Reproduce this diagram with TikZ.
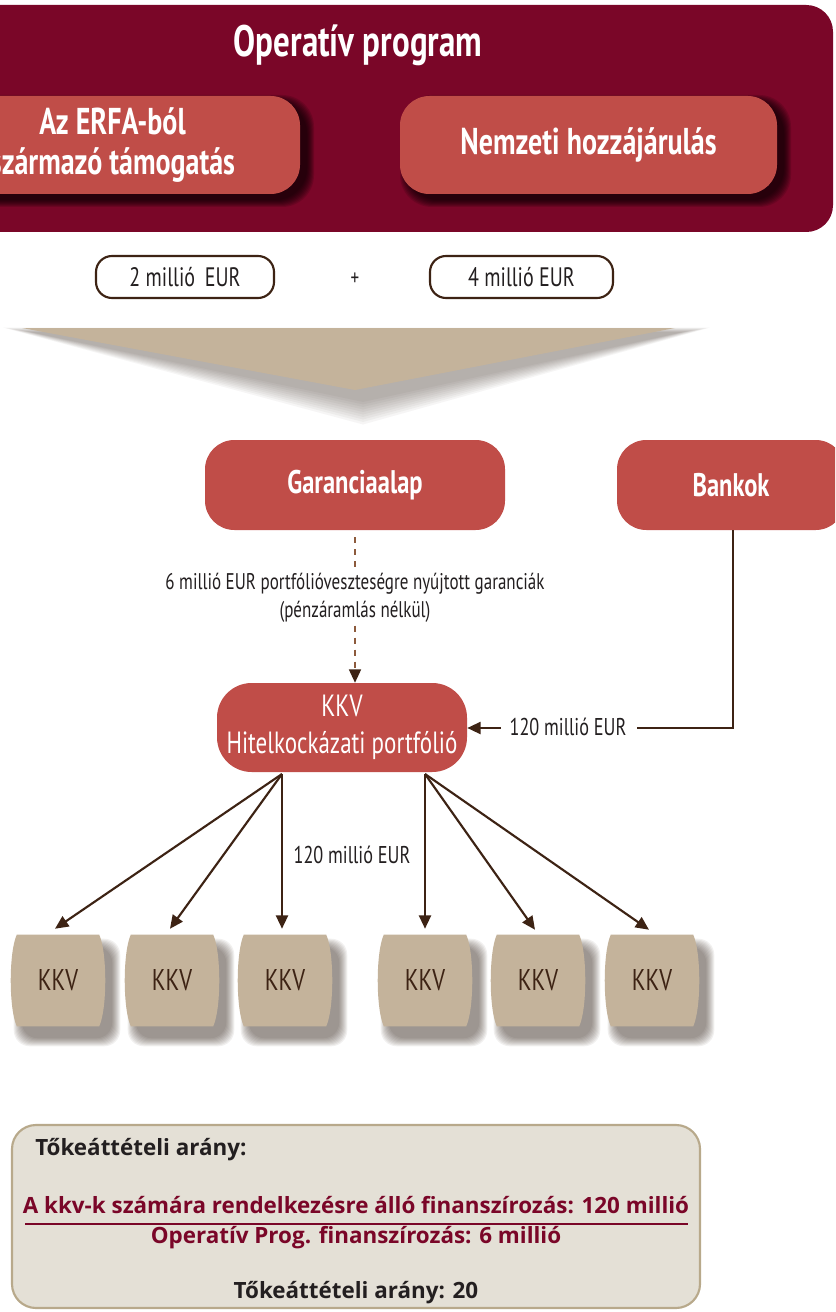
\documentclass[tikz,border=0pt]{standalone}
\usepackage{fontspec}
\setmainfont[FakeStretch=0.75]{PT Sans}
\newfontfamily\widefont{Open Sans}
\usetikzlibrary{arrows.meta,calc}
\definecolor{maroon}{RGB}{122,6,40}
\definecolor{brick}{RGB}{192,77,72}
\definecolor{tan}{RGB}{196,179,155}
\definecolor{dbrown}{RGB}{61,35,20}
\definecolor{dashbrown}{RGB}{140,90,60}
\definecolor{paper}{RGB}{228,224,214}
\definecolor{paperedge}{RGB}{184,169,139}
\definecolor{textdark}{RGB}{35,31,32}
\definecolor{shadegrey}{RGB}{60,45,35}
\pgfdeclarelayer{background}
\pgfsetlayers{background,main}
\begin{document}
% coordinates: x in px from left, y = -(px from top); 1px = 0.75pt
\begin{tikzpicture}[x=0.75pt,y=0.75pt,
  banner/.style={fill=maroon, rounded corners=20pt, inner sep=0pt},
  redbox/.style={fill=brick, rounded corners=22pt, text=white, align=center, inner sep=0pt},
  softshade/.style={fill=black, opacity=0.13, rounded corners=24pt},
  kkvshade/.style={fill=shadegrey, opacity=0.07, rounded corners=12pt},
  trishade/.style={fill=shadegrey, opacity=0.045},
  amount/.style={draw=dbrown, line width=1.6pt, fill=white, rounded corners=12pt, inner sep=0pt,
    minimum height=31.5pt, font=\fontsize{20}{20}\selectfont, text=textdark},
  kkvbox/.style={minimum width=67.5pt, minimum height=68.25pt, inner sep=0pt,
    font=\fontsize{22.5}{22.5}\selectfont, text=dbrown},
  kkvshape/.style={fill=tan},
  flow/.style={draw=dbrown, line width=1.6pt, -{Triangle[length=10pt,width=9pt]}},
  plain/.style={draw=dbrown, line width=1.6pt},
  dashline/.style={draw=dashbrown, line width=1.2pt, dash pattern=on 4.5pt off 4.5pt},
  lbl/.style={font=\fontsize{18.2}{18.2}\selectfont, text=textdark, inner sep=2pt, align=center},
  bottomtxt/.style={font=\widefont\bfseries\fontsize{16.8}{16.8}\selectfont, inner sep=0pt}
]
\clip (0,0) rectangle (835,-1312);
\begin{pgfonlayer}{background}
\fill[white] (0,0) rectangle (835,-1312);
\end{pgfonlayer}

% top banner
\node[banner, minimum width=654.75pt, minimum height=170.25pt] (op) at (396.5,-118.5) {};
\node[text=white, font=\bfseries\fontsize{33}{33}\selectfont, inner sep=0pt] (optitle) at (358,-45) {Operatív program};
% soft shadows of the two red boxes
\foreach \i in {0,...,7}{
  \fill[softshade] (-75+7-\i,-96-6+\i) rectangle (300+7+\i,-194-6-\i);
  \fill[softshade] (400+7-\i,-96-6+\i) rectangle (777+7+\i,-194-6-\i);
}
\node[redbox, minimum width=281.25pt, minimum height=73.5pt,
  font=\bfseries\fontsize{28}{30}\selectfont] (erfa) at (112.5,-145) {Az ERFA-ból\\származó támogatás};
\node[redbox, minimum width=282.75pt, minimum height=73.5pt,
  font=\bfseries\fontsize{28}{30}\selectfont] (nemz) at (588.5,-145) {Nemzeti hozzájárulás};

% amounts
\node[amount, minimum width=133.5pt] (a1) at (185,-277) {2 millió\, EUR};
\node[lbl, font=\fontsize{17}{17}\selectfont] (plus) at (355,-279) {+};
\node[amount, minimum width=137.25pt] (a2) at (521.5,-277) {4 millió EUR};

% big triangle with soft shadow
\foreach \i in {0,...,9}{
  \fill[trishade] (22+8-3*\i,-332+0.5*\i) -- (675+8+3*\i,-332+0.5*\i) -- (355+8,-402-2.5*\i) -- cycle;
}
\coordinate (tl) at (22,-328);
\coordinate (tr) at (675,-328);
\coordinate (tb) at (355,-390);
\path[fill=tan] (tl) -- (tr) -- (tb) -- cycle;

% Garanciaalap and Bankok
\node[redbox, minimum width=225pt, minimum height=67.5pt, font=\bfseries\fontsize{24.5}{24.5}\selectfont] (gar) at (355,-485) {Garanciaalap};
\node[redbox, minimum width=171pt, minimum height=67.5pt, font=\bfseries\fontsize{24.5}{24.5}\selectfont] (bank) at (731,-485) {Bankok};

\node[lbl, font=\fontsize{17}{21}\selectfont] (glbl) at (355,-598) {6 millió EUR portfólióveszteségre nyújtott garanciák\\(pénzáramlás nélkül)};

% portfolio
\node[redbox, rounded corners=26pt, minimum width=187.5pt, minimum height=66.75pt,
  font=\fontsize{23}{28}\selectfont] (port) at (342,-727.5) {KKV\\Hitelkockázati portfólió};

\coordinate (dtip) at (glbl.south |- port.north);
\draw[dashline] ($(gar.south)+(0,-7)$) -- (glbl.north);
\draw[dashline] (glbl.south) -- ($(dtip)+(0,12)$);
\draw[flow, line width=1.2pt] ($(dtip)+(0,13)$) -- (dtip);

% Bankok flow
\node[lbl] (blbl) at (568,-727) {120 millió EUR};
\coordinate (bk) at (733,-728);
\draw[plain] (bank.south -| bk) -- (bk) -- ($(blbl.east)+(8,-1)$);
\draw[flow] ($(blbl.west)+(-6,-1)$) -- (port.east |- bk);

% KKV boxes
\node[kkvbox] (k1) at (58,-980.5) {KKV};
\node[kkvbox] (k2) at (172,-980.5) {KKV};
\node[kkvbox] (k3) at (285,-980.5) {KKV};
\node[kkvbox] (k4) at (425,-980.5) {KKV};
\node[kkvbox] (k5) at (538,-980.5) {KKV};
\node[kkvbox] (k6) at (652,-980.5) {KKV};
\begin{pgfonlayer}{background}
\foreach \n in {k1,k2,k3,k4,k5,k6}{
  \foreach \i in {0,...,8}{
    \fill[kkvshade] ($(\n.north west)+(9-\i,-12+\i)$) rectangle ($(\n.south east)+(9+\i,-12-\i)$);
  }
}
\foreach \n in {k1,k2,k3,k4,k5,k6}{
  \path[kkvshape] ($(\n.north west)+(4,0)$) -- ($(\n.north east)+(-4,0)$)
    .. controls ($(\n.north east)+(4,-18)$) and ($(\n.south east)+(4,18)$) .. ($(\n.south east)+(-4,0)$)
    -- ($(\n.south west)+(4,0)$)
    .. controls ($(\n.south west)+(-4,18)$) and ($(\n.north west)+(-4,-18)$) .. cycle;
}
\end{pgfonlayer}

\coordinate (pl) at (282,-774);
\coordinate (pr) at (425,-774);
\draw[flow] (pl) -- ($(k1.north)+(-3,6)$);
\draw[flow] (pl) -- ($(k2.north)+(-2,6)$);
\draw[flow] (pl) -- ($(k3.north)+(-3,6)$);
\draw[flow] (pr) -- ($(k4.north)+(0,6)$);
\draw[flow] (pr) -- ($(k5.north)+(-3,5)$);
\draw[flow] (pr) -- ($(k6.north)+(-3,5)$);
\node[lbl] (mlbl) at (352,-855) {120 millió EUR};

% bottom box
\node[fill=paper, draw=paperedge, line width=1.6pt, rounded corners=18pt, minimum width=516pt, minimum height=137.25pt, inner sep=0pt] (lev) at (356,-1216.5) {};
\node[bottomtxt, text=textdark, anchor=west] (lev1) at (35,-1150) {Tőkeáttételi arány:};
\node[bottomtxt, text=maroon] (lev2) at (356,-1205) {A kkv-k számára rendelkezésre álló finanszírozás: 120 millió};
\coordinate (ul) at (25,-1224);
\coordinate (ur) at (688,-1224);
\draw[maroon, line width=1.1pt] (ul) -- (ur);
\node[bottomtxt, text=maroon] (lev3) at (356,-1238) {Operatív Prog. finanszírozás: 6 millió};
\node[bottomtxt, text=textdark] (lev4) at (356,-1293) {Tőkeáttételi arány: 20};
\end{tikzpicture}
\end{document}
